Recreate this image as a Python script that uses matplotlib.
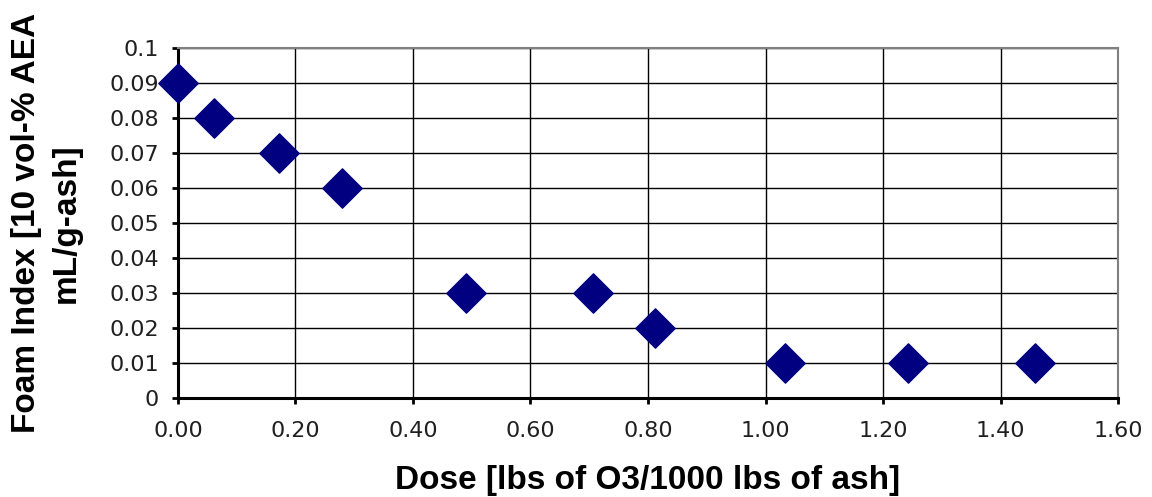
import matplotlib
matplotlib.use("Agg")
import matplotlib.pyplot as plt

# dose vs foam index
dose = [0.00, 0.061, 0.172, 0.279, 0.490, 0.706, 0.812, 1.033, 1.243, 1.459]
foam_index = [0.09, 0.08, 0.07, 0.06, 0.03, 0.03, 0.02, 0.01, 0.01, 0.01]

x_ticks = [0.0, 0.2, 0.4, 0.6, 0.8, 1.0, 1.2, 1.4, 1.6]
y_ticks = [0, 0.01, 0.02, 0.03, 0.04, 0.05, 0.06, 0.07, 0.08, 0.09, 0.1]
y_tick_labels = ["0", "0.01", "0.02", "0.03", "0.04", "0.05", "0.06", "0.07", "0.08", "0.09", "0.1"]

fig = plt.figure(figsize=(11.52, 4.97), dpi=100)
ax = fig.add_axes([0.1545, 0.199, 0.816, 0.704])

ax.scatter(dose, foam_index, marker="D", s=20 ** 2, color="#000080", zorder=3, clip_on=False)

ax.set_xlim(0, 1.6)
ax.set_ylim(0, 0.1)
ax.set_xticks(x_ticks)
ax.set_xticklabels(["%.2f" % v for v in x_ticks])
ax.set_yticks(y_ticks)
ax.set_yticklabels(y_tick_labels)
ax.grid(True, color="black", linewidth=1.0)
ax.set_axisbelow(True)

for side in ["top", "right"]:
    ax.spines[side].set_color("#808080")
    ax.spines[side].set_linewidth(1.5)
for side in ["left", "bottom"]:
    ax.spines[side].set_color("black")
    ax.spines[side].set_linewidth(2.2)

ax.tick_params(direction="out", length=4.5, width=2, labelsize=16)
ax.tick_params(axis="y", pad=9)
ax.tick_params(axis="x", pad=12)
for lab in ax.get_xticklabels() + ax.get_yticklabels():
    lab.set_family("DejaVu Sans")
    lab.set_color("#202020")

ax.set_xlabel("Dose [lbs of O3/1000 lbs of ash]", fontsize=24, fontweight="bold",
              family="Liberation Sans", labelpad=17)
ax.set_ylabel("Foam Index [10 vol-% AEA\nmL/g-ash]", fontsize=24, fontweight="bold",
              family="Liberation Sans", labelpad=20, linespacing=1.35)

fig.savefig("out.png", dpi=100)
